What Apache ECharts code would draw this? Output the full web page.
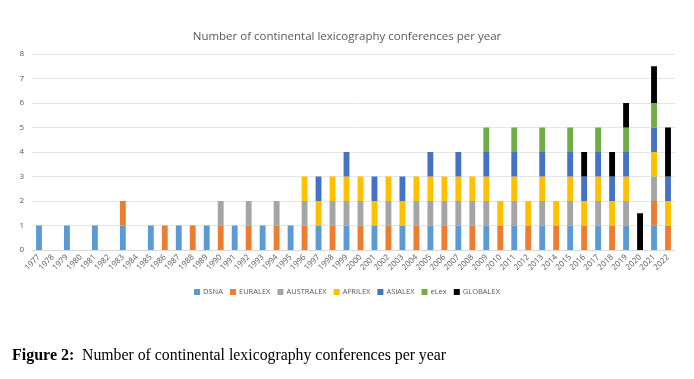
<!DOCTYPE html>
<html><head><meta charset="utf-8">
<script src="https://cdn.jsdelivr.net/npm/echarts@6/dist/echarts.min.js"></script>
<style>html,body{margin:0;padding:0;background:#fff}#c{width:694px;height:379px}</style>
</head><body><div id="c"></div>
<script>
const years = ["1977","1978","1979","1980","1981","1982","1983","1984","1985","1986","1987","1988","1989","1990","1991","1992","1993","1994","1995","1996","1997","1998","1999","2000","2001","2002","2003","2004","2005","2006","2007","2008","2009","2010","2011","2012","2013","2014","2015","2016","2017","2018","2019","2020","2021","2022"];
const DSNA      = [1,0,1,0,1,0,1,0,1,0,1,0,1,0,1,0,1,0,1,0,1,0,1,0,1,0,1,0,1,0,1,0,1,0,1,0,1,0,1,0,1,0,1,0,1,0];
const EURALEX   = [0,0,0,0,0,0,1,0,0,1,0,1,0,1,0,1,0,1,0,1,0,1,0,1,0,1,0,1,0,1,0,1,0,1,0,1,0,1,0,1,0,1,0,0,1,1];
const AUSTRALEX = [0,0,0,0,0,0,0,0,0,0,0,0,0,1,0,1,0,1,0,1,0,1,1,1,0,1,0,1,1,1,1,1,1,0,1,0,1,0,1,0,1,0,1,0,1,0];
const AFRILEX   = [0,0,0,0,0,0,0,0,0,0,0,0,0,0,0,0,0,0,0,1,1,1,1,1,1,1,1,1,1,1,1,1,1,1,1,1,1,1,1,1,1,1,1,0,1,1];
const ASIALEX   = [0,0,0,0,0,0,0,0,0,0,0,0,0,0,0,0,0,0,0,0,1,0,1,0,1,0,1,0,1,0,1,0,1,0,1,0,1,0,1,1,1,1,1,0,1,1];
const ELEX      = [0,0,0,0,0,0,0,0,0,0,0,0,0,0,0,0,0,0,0,0,0,0,0,0,0,0,0,0,0,0,0,0,1,0,1,0,1,0,1,0,1,0,1,0,1,0];
const GLOBALEX  = [0,0,0,0,0,0,0,0,0,0,0,0,0,0,0,0,0,0,0,0,0,0,0,0,0,0,0,0,0,0,0,0,0,0,0,0,0,0,0,1,0,1,1,1.5,1.5,2];
const seriesNames = ["DSNA","EURALEX","AUSTRALEX","AFRILEX","ASIALEX","eLex","GLOBALEX"];
const seriesData = [DSNA,EURALEX,AUSTRALEX,AFRILEX,ASIALEX,ELEX,GLOBALEX];
const colors = ["#5B9BD5","#ED7D31","#A5A5A5","#FFC000","#4472C4","#70AD47","#000000"];

const chart = echarts.init(document.getElementById('c'));
chart.setOption({
  backgroundColor:'#fff',
  animation:false,
  color: colors,
  title:{text:'Number of continental lexicography conferences per year', left:'center', top:26,
    textStyle:{fontFamily:'Open Sans', fontSize:11.5, fontWeight:'normal', color:'#595959'}},
  legend:{bottom:78, left:'center', itemWidth:6, itemHeight:6, itemGap:7, icon:'rect',
    textStyle:{fontFamily:'Open Sans', fontSize:7.5, color:'#595959', padding:[0,0,0,-2]}, data:seriesNames},
  grid:{left:32, right:19, top:54, bottom:129, containLabel:false},
  xAxis:{type:'category', data:years,
    axisLine:{lineStyle:{color:'#d9d9d9'}}, axisTick:{show:false},
    axisLabel:{rotate:45, interval:0, fontFamily:'Open Sans', fontSize:8, color:'#595959', margin:6}},
  yAxis:{type:'value', min:0, max:8, interval:1,
    axisLine:{show:false}, axisTick:{show:false},
    splitLine:{lineStyle:{color:'#e6e6e6'}},
    axisLabel:{fontFamily:'Open Sans', fontSize:8, color:'#595959', margin:8}},
  series: seriesNames.map((n,i)=>({name:n, type:'bar', stack:'t', barWidth:'42%', data:seriesData[i]})),
  graphic:[
    {type:'text', left:12, top:348, style:{text:'Figure 2:', font:'bold 16px "Liberation Serif"', fill:'#000'}},
    {type:'text', left:82, top:348, style:{text:'Number of continental lexicography conferences per year', font:'15.8px "Liberation Serif"', fill:'#000'}}
  ]
});
</script></body></html>
